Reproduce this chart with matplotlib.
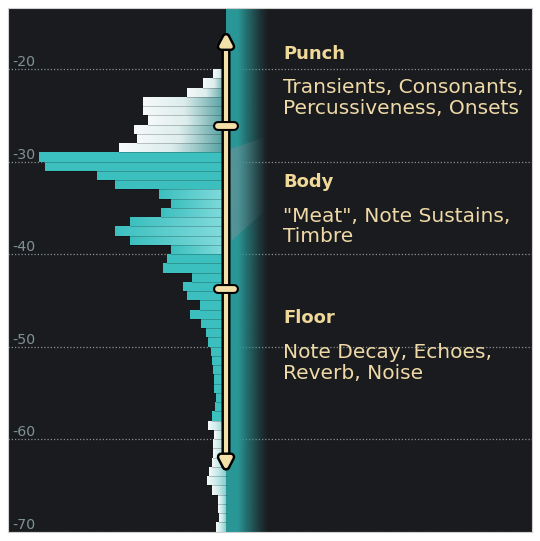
import numpy as np
import matplotlib
matplotlib.use("Agg")
import matplotlib.pyplot as plt
from matplotlib.patches import Polygon, FancyArrowPatch
import matplotlib.patheffects as pe
from matplotlib.colors import LinearSegmentedColormap, to_rgb

# ---------------- data ----------------
# top edge (dB) of each 1 dB level bin
bin_tops = list(range(-20, -70, -1))
# relative amount of signal in each bin (bar length)
bar_lengths = [13, 23, 39, 83, 83, 78, 92, 89, 107, 187,
               181, 129, 111, 67, 55, 65, 96, 111, 96, 55,
               59, 63, 34, 43, 39, 26, 36, 25, 20, 18,
               15, 14, 13, 12, 12, 10, 11, 14, 18, 12,
               13, 13, 14, 17, 19, 14, 8, 8, 7, 10]
bin_height = 1.0

y_ticks = [-20, -30, -40, -50, -60, -70]
y_tick_labels = ["-20", "-30", "-40", "-50", "-60", "-70"]

# zones along the level axis
zone_titles = ["Punch", "Body", "Floor"]
zone_texts = ["Transients, Consonants,\nPercussiveness, Onsets",
              "\"Meat\", Note Sustains,\nTimbre",
              "Note Decay, Echoes,\nReverb, Noise"]
zone_title_y = [-18.92, -32.76, -47.5]
zone_text_y = [-22.63, -36.5, -51.28]

arrow_top = -16.1
arrow_bottom = -63.4
zone_dividers = [-26.2, -43.8]

# ---------------- style ----------------
BG = "#1a1b1f"
TEAL = "#3cbfbf"
CREAM = "#f3dfa8"
TEXT_CREAM = "#efd9a6"
LINE_STEP = 2.24  # dB between text lines

fig = plt.figure(figsize=(5.40, 5.41), dpi=100, facecolor="white")
ax = fig.add_axes([8 / 540, 9 / 541, 524 / 540, 524 / 541])
ax.set_facecolor(BG)
XMIN, XMAX = -218, 306
YMIN, YMAX = -70.05, -13.4

# grid
for t in y_ticks:
    ax.axhline(t, color="#9aa8a8", lw=0.9, ls=(0, (1, 1.6)), alpha=0.85, zorder=0.5)
for t, lab in zip(y_ticks, y_tick_labels):
    ax.text(XMIN + 4.5, t + 0.28, lab, color="#7f9393", fontsize=10.2,
            ha="left", va="baseline", zorder=3)

# teal band (right of bars)
band_w = 42
n = 200
xs = np.linspace(0, 1, n)
alpha = np.clip(1 - (xs - 0.28) / 0.72, 0, 1) ** 1.2
rgba = np.zeros((1, n, 4))
rgba[..., :3] = to_rgb("#2a9797")
rgba[..., 3] = alpha
ax.imshow(rgba, extent=(0, band_w, YMIN, YMAX), aspect="auto",
          interpolation="bilinear", zorder=1.0)

# gray wedge in body region
wedge = Polygon([(3, -28.7), (38, -27.4), (38, -35.4), (6, -38.5)],
                closed=True, transform=ax.transData, facecolor="none", edgecolor="none")
ax.add_patch(wedge)
rg = np.zeros((1, n, 4))
rg[..., :3] = to_rgb("#8e8e96")
rg[..., 3] = np.clip(0.55 * (1 - xs) ** 1.2, 0, 1)
im = ax.imshow(rg, extent=(0, 40, YMIN, YMAX), aspect="auto",
               interpolation="bilinear", zorder=1.1)
im.set_clip_path(wedge)

# bar colour maps
cm_punch = LinearSegmentedColormap.from_list("p", ["#f6fafa", "#dcecec", "#4f9d9d"])
cm_teal = LinearSegmentedColormap.from_list("t", [TEAL, TEAL])
cm_body = LinearSegmentedColormap.from_list("b", [TEAL, "#84dcdc"])
cm_floor = LinearSegmentedColormap.from_list("f", ["#f6fafa", "#c9eaea", "#86cfcf"])


def cmap_for(top):
    if top > -29:
        return cm_punch
    if -33 >= top > -40:
        return cm_body
    if top <= -58:
        return cm_floor
    return cm_teal


grad = np.linspace(0, 1, 128).reshape(1, -1)
for top, L in zip(bin_tops, bar_lengths):
    bottom = top - bin_height
    bars = ax.barh(bottom, -L, height=bin_height, left=0, align="edge",
                   facecolor="none", edgecolor="none", zorder=2)
    rect = bars.patches[0]
    im = ax.imshow(grad, cmap=cmap_for(top), extent=(-L, 0, bottom, top),
                   aspect="auto", interpolation="bilinear", zorder=2)
    im.set_clip_path(rect)
    ax.plot([-L, 0], [bottom, bottom], color=(0, 0, 0, 0.22), lw=0.7, zorder=2.2)

# arrow
outline = [pe.Stroke(linewidth=6.5, foreground="black"), pe.Normal()]
arr = FancyArrowPatch((0, arrow_bottom), (0, arrow_top),
                      arrowstyle="<|-|>,head_length=6.5,head_width=3.4",
                      mutation_scale=1, color=CREAM, lw=3, shrinkA=0, shrinkB=0,
                      zorder=6, path_effects=outline)
ax.add_patch(arr)
for d in zone_dividers:
    ax.plot([-8, 8], [d, d], color=CREAM, lw=4.2, solid_capstyle="round", zorder=7,
            path_effects=[pe.Stroke(linewidth=7.2, foreground="black"), pe.Normal()])

# zone labels
for title, txt, ty, by in zip(zone_titles, zone_texts, zone_title_y, zone_text_y):
    ax.text(57, ty, title, color="#f0d899", fontsize=13, fontweight="bold",
            ha="left", va="baseline", zorder=8)
    for i, line in enumerate(txt.split("\n")):
        ax.text(57, by - i * LINE_STEP, line, color=TEXT_CREAM, fontsize=14.5,
                ha="left", va="baseline", zorder=8)

ax.set_xlim(XMIN, XMAX)
ax.set_ylim(YMIN, YMAX)
ax.set_xticks([])
ax.set_yticks([])
for s in ax.spines.values():
    s.set_color("#cfcfcf")
    s.set_linewidth(0.8)

fig.savefig("out.png", dpi=100, facecolor="white")
